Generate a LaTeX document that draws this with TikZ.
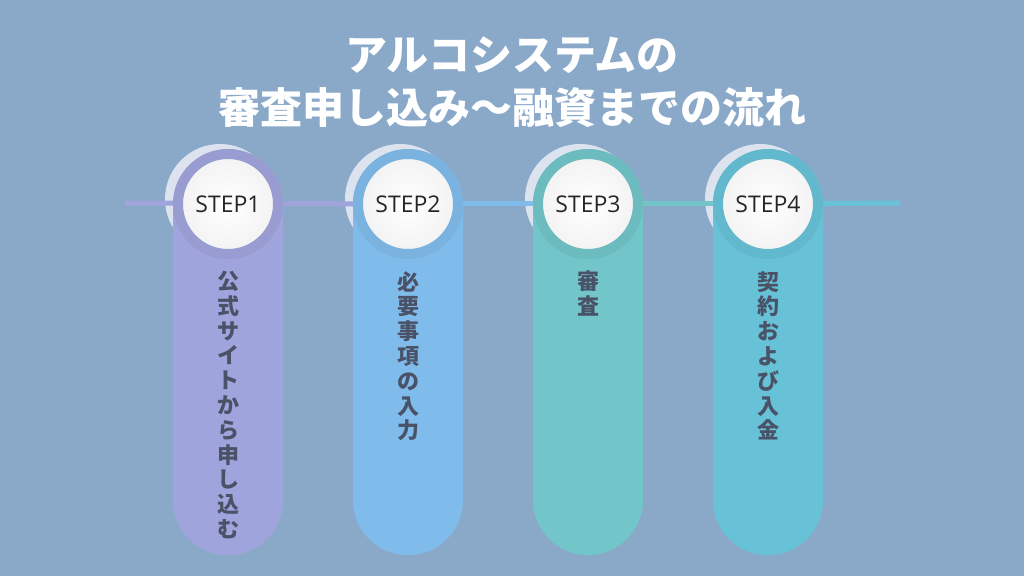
\documentclass[tikz,border=0pt]{standalone}
\usepackage{fontspec}
\newfontfamily\jpfont{Noto Sans CJK JP}
\newfontfamily\stepfont{Open Sans}
\definecolor{bgC}{HTML}{8AA9C9}
\definecolor{haloC}{HTML}{DCE3EE}
\definecolor{purpC}{HTML}{A0A4DC}
\definecolor{blueC}{HTML}{80BCEB}
\definecolor{tealC}{HTML}{72C5C9}
\definecolor{cyanC}{HTML}{67C2D7}
\definecolor{textC}{HTML}{4A5268}
\tikzstyle{stepnode} = [circle, draw, line width=10pt, minimum size=100pt,
    inner sep=0pt, inner color=white, outer color=black!5,
    font=\stepfont\fontsize{23}{27}\selectfont, text=black!85]
\tikzstyle{pill} = [rectangle, rounded corners=55pt, minimum width=110pt,
    minimum height=406pt, anchor=north, inner sep=0pt]
\tikzstyle{line} = [draw, line width=5pt]
\tikzstyle{vtext} = [anchor=north, align=center, inner sep=0pt, text=textC,
    font=\jpfont\bfseries\fontsize{22}{24.8}\selectfont]
\tikzstyle{title} = [align=center, text=white,
    font=\jpfont\bfseries\fontsize{42}{53}\selectfont]
\begin{document}
\begin{tikzpicture}[x=1pt, y=1pt, node distance=180pt]
    % Background
    \fill[bgC] (0,0) rectangle (1024,576);
    % Place centres
    \coordinate (c1) at (228,372);
    \coordinate [right of=c1] (c2);
    \coordinate [right of=c2] (c3);
    \coordinate [right of=c3] (c4);
    \coordinate (lstart) at (125,373);
    \coordinate (lend) at (900,373);
    % Halo circles
    \fill[haloC] ([xshift=-8pt,yshift=5pt]c1) circle (55);
    \fill[haloC] ([xshift=-8pt,yshift=5pt]c2) circle (55);
    \fill[haloC] ([xshift=-8pt,yshift=5pt]c3) circle (55);
    \fill[haloC] ([xshift=-8pt,yshift=5pt]c4) circle (55);
    % Draw edges
    \path [line, draw=purpC] (lstart) -- (c2);
    \path [line, draw=blueC] (c2) -- (c3);
    \path [line, draw=tealC] (c3) -- (c4);
    \path [line, draw=cyanC] (c4) -- (lend);
    % Columns
    \node [pill, fill=purpC] (p1) at ([yshift=55pt]c1) {};
    \node [pill, fill=blueC] (p2) at ([yshift=55pt]c2) {};
    \node [pill, fill=tealC] (p3) at ([yshift=55pt]c3) {};
    \node [pill, fill=cyanC] (p4) at ([yshift=55pt]c4) {};
    % Step circles
    \node [stepnode, draw=purpC!95!black] (s1) at (c1) {STEP1};
    \node [stepnode, draw=blueC!95!black] (s2) at (c2) {STEP2};
    \node [stepnode, draw=tealC!95!black] (s3) at (c3) {STEP3};
    \node [stepnode, draw=cyanC!95!black] (s4) at (c4) {STEP4};
    % Vertical texts
    \node [vtext] (t1) at ([yshift=-67pt]c1) {公\\式\\サ\\イ\\ト\\か\\ら\\申\\し\\込\\む};
    \node [vtext] (t2) at ([yshift=-67pt]c2) {必\\要\\事\\項\\の\\入\\力};
    \node [vtext] (t3) at ([yshift=-67pt]c3) {審\\査};
    \node [vtext] (t4) at ([yshift=-67pt]c4) {契\\約\\お\\よ\\び\\入\\金};
    % Title
    \node [title] (title) at (512,494) {アルコシステムの\\審査申し込み〜融資までの流れ};
\end{tikzpicture}
\end{document}
